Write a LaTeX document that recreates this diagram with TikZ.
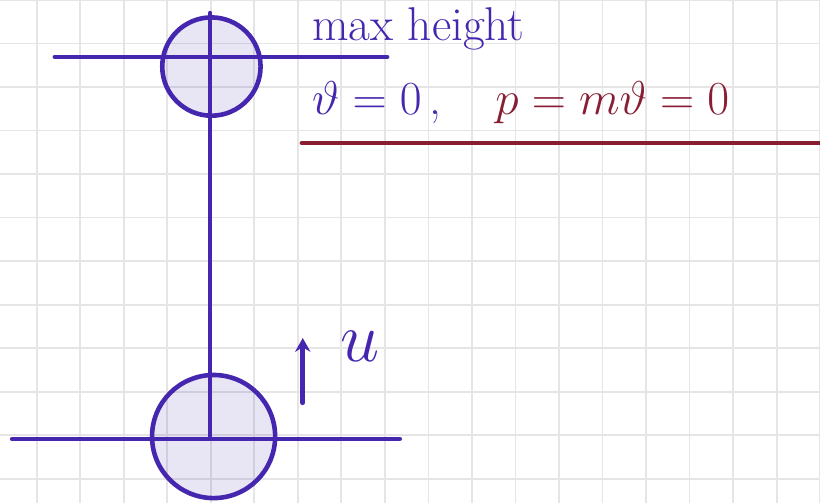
\RequirePackage{fix-cm}
\documentclass[tikz,border=0pt]{standalone}
\usepackage{amssymb,amsmath}
\usepackage{fontspec}
\usetikzlibrary{arrows.meta,positioning}
\definecolor{xInk}{RGB}{69,39,175}
\definecolor{xWine}{RGB}{135,30,52}
\definecolor{xGrid}{RGB}{229,229,229}

\tikzset{
  gridline/.style={xGrid, line width=1.3pt},
  ink/.style={xInk, line width=3pt, line cap=round},
  mass/.style={circle, draw=xInk, line width=3pt, fill=xInk, fill opacity=0.12, draw opacity=1, inner sep=0pt},
  note/.style={anchor=base west, inner sep=0pt, font=\fontsize{31}{36}\selectfont}
}

\begin{document}
\begin{tikzpicture}
    \useasboundingbox (-0.85,-0.563) rectangle (18,11);
    % squared paper
    \draw[gridline] (-0.85,-0.563) grid (18,11);

    % the two positions of the ball
    \node[mass, minimum size=2.26cm] (topmass) at (4.01,9.47) {};
    \node[mass, minimum size=2.83cm] (botmass) at (4.06,0.965) {};

    \coordinate (topL) at (0.41,9.69);
    \coordinate (topR) at (8.05,9.69);
    \coordinate (botL) at (-0.57,0.91);
    \coordinate (botR) at (8.34,0.91);
    \coordinate (rodtop) at (3.98,10.70);
    \coordinate (rodbot) at (3.98,0.93);
    \draw[ink] (topL) -- (topR);
    \draw[ink] (botL) -- (botR);
    \draw[ink] (rodtop) -- (rodbot);

    % initial speed
    \coordinate (utail) at (6.11,1.74);
    \coordinate (uhead) at (6.11,3.23);
    \draw[ink, -{Stealth[length=9pt,width=10pt]}] (utail) -- (uhead);
    \node[anchor=base west, inner sep=0pt, xInk, font=\fontsize{46}{50}\selectfont] (ulabel) at (6.97,2.68) {$u$};

    % notes
    \node[note, xInk] (maxh) at (6.32,10.06) {max height};
    \node[note, xInk] (vzero) at (6.32,8.36) {$\vartheta=0$\,,};
    \node[note, xWine] (pzero) at (10.53,8.36) {$p=m\vartheta=0$};
    \coordinate (ulineL) at (6.09,7.71);
    \coordinate (ulineR) at (18,7.71);
    \draw[xWine, line width=3pt, line cap=round] (ulineL) -- (ulineR);
\end{tikzpicture}
\end{document}
